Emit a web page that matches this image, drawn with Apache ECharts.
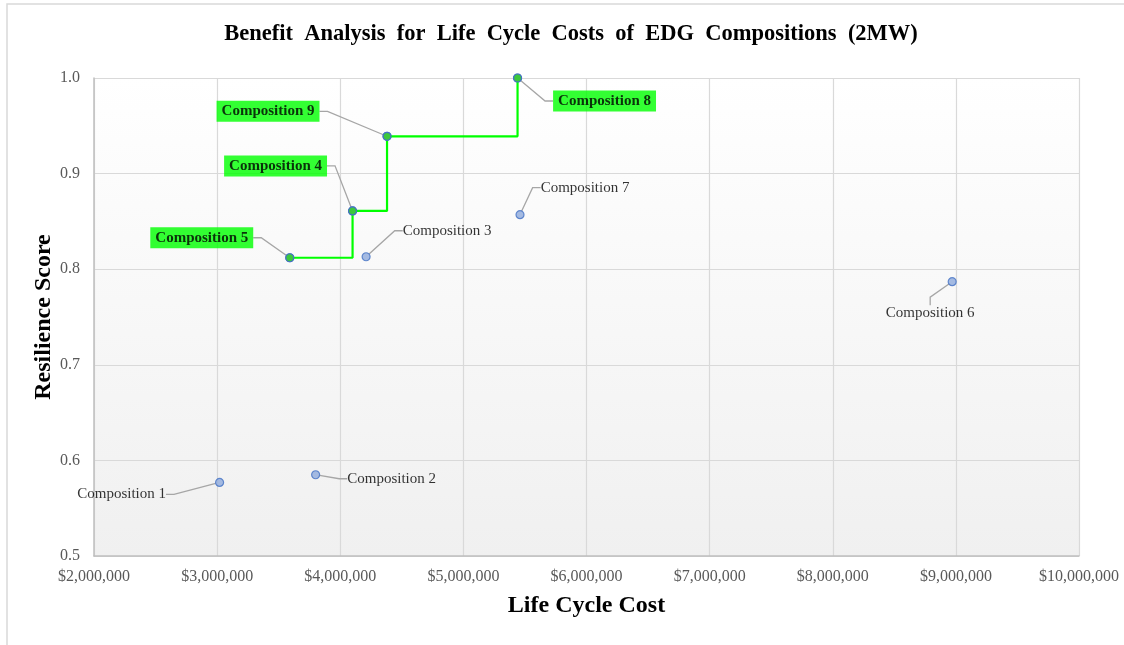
<!DOCTYPE html>
<html>
<head>
<meta charset="utf-8">
<script src="https://cdn.jsdelivr.net/npm/echarts@6/dist/echarts.min.js"></script>
<style>
  html, body { margin: 0; padding: 0; background: #fff; }
  #chart { width: 1124px; height: 645px; }
</style>
</head>
<body>
<div id="chart"></div>
<script>
// data
const names = ['Composition 1', 'Composition 2', 'Composition 3', 'Composition 4', 'Composition 5',
  'Composition 6', 'Composition 7', 'Composition 8', 'Composition 9'];
const lifeCycleCost = [3020000, 3800000, 4210000, 4100000, 3590000, 8970000, 5460000, 5440000, 4380000];
const resilience = [0.577, 0.585, 0.813, 0.861, 0.812, 0.787, 0.857, 1.0, 0.939];
// pareto front, in cost order
const frontier = ['Composition 5', 'Composition 4', 'Composition 9', 'Composition 8'];

// where each label sits relative to its point (px)
const labelShift = [[-98, 12], [76, 4], [81, -26], [-77, -45], [-88, -20], [-22, 31], [65, -27], [87, 23], [-119, -25]];

const serif = '"Liberation Serif", "Times New Roman", serif';

const chart = echarts.init(document.getElementById('chart'));

const scatterData = names.map((n, i) => {
  const item = { name: n, value: [lifeCycleCost[i], resilience[i]] };
  if (frontier.includes(n)) {
    item.label = {
      backgroundColor: '#00ff00',
      fontWeight: 'bold',
      padding: [3, 5, 3, 5]
    };
  }
  return item;
});

const frontierData = frontier.map(n => {
  const i = names.indexOf(n);
  return [lifeCycleCost[i], resilience[i]];
});

const option = {
  backgroundColor: '#fff',
  animation: false,
  title: {
    // wide word gaps like the original
    text: 'Benefit  Analysis  for  Life  Cycle  Costs  of  EDG  Compositions  (2MW)',
    left: 566,
    top: 18,
    textAlign: 'center',
    textStyle: { fontFamily: serif, fontSize: 22.5, fontWeight: 'bold', color: '#000' }
  },
  graphic: [{
    type: 'rect',
    shape: { x: 7, y: 4, width: 1140, height: 660 },
    style: { fill: 'none', stroke: '#d9d9d9', lineWidth: 1.5 },
    silent: true
  }],
  grid: {
    left: 94, right: 45, top: 78, bottom: 89,
    show: true,
    borderWidth: 0,
    backgroundColor: {
      type: 'linear', x: 0, y: 0, x2: 0, y2: 1,
      colorStops: [{ offset: 0, color: '#ffffff' }, { offset: 1, color: '#f0f0f0' }]
    }
  },
  xAxis: {
    type: 'value',
    min: 2000000, max: 10000000, interval: 1000000,
    name: 'Life Cycle Cost',
    nameLocation: 'middle',
    nameGap: 38,
    nameMoveOverlap: false,
    nameTextStyle: { fontFamily: serif, fontSize: 24, fontWeight: 'bold', color: '#000' },
    axisLine: { show: true, lineStyle: { color: '#bfbfbf', width: 1.5 } },
    axisTick: { show: false },
    axisLabel: {
      margin: 13,
      fontFamily: serif, fontSize: 16, color: '#595959',
      formatter: v => '$' + v.toLocaleString('en-US')
    },
    splitLine: { show: true, lineStyle: { color: '#d9d9d9', width: 1.2 } }
  },
  yAxis: {
    type: 'value',
    min: 0.5, max: 1.0, interval: 0.1,
    name: 'Resilience Score',
    nameLocation: 'middle',
    nameGap: 38,
    nameMoveOverlap: false,
    nameTextStyle: { fontFamily: serif, fontSize: 24, fontWeight: 'bold', color: '#000' },
    axisLine: { show: true, lineStyle: { color: '#bfbfbf', width: 1.5 } },
    axisTick: { show: false },
    axisLabel: {
      margin: 14,
      fontFamily: serif, fontSize: 16, color: '#595959',
      formatter: v => v.toFixed(1)
    },
    splitLine: { show: true, lineStyle: { color: '#d9d9d9', width: 1.2 } }
  },
  series: [
    {
      type: 'scatter',
      data: scatterData,
      symbolSize: 8,
      itemStyle: { color: '#8faadc', borderColor: '#4472c4', borderWidth: 1.2 },
      label: {
        show: true,
        position: 'inside',
        formatter: '{b}',
        fontFamily: serif,
        fontSize: 15,
        color: '#000'
      },
      labelLine: {
        show: true,
        length2: 8,
        lineStyle: { color: '#a6a6a6', width: 1.3 }
      },
      labelLayout: params => ({
        dx: labelShift[params.dataIndex][0],
        dy: labelShift[params.dataIndex][1]
      }),
      z: 3
    },
    {
      type: 'line',
      data: frontierData,
      step: 'end',
      symbol: 'circle',
      symbolSize: 8,
      lineStyle: { color: '#00ff00', width: 2.2 },
      itemStyle: { color: '#3cc83c', borderColor: '#4472c4', borderWidth: 1.2 },
      silent: true,
      z: 4
    }
  ]
};

chart.setOption(option);
</script>
</body>
</html>
